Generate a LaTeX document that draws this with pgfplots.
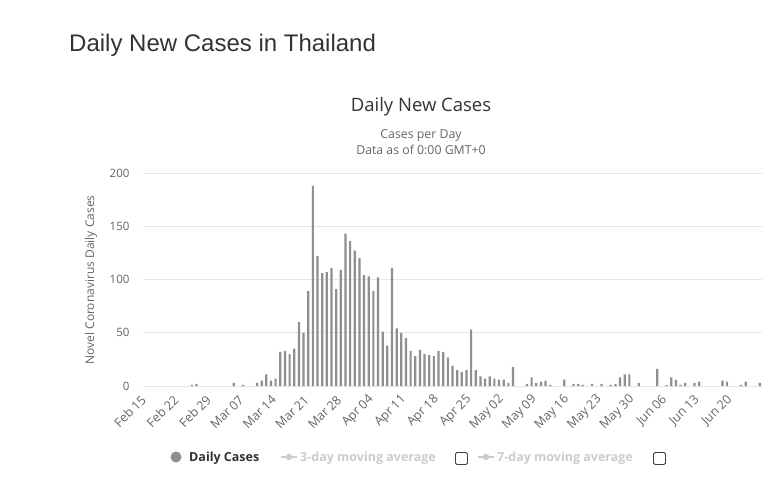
\documentclass[border=0pt]{standalone}
\usepackage{pgfplots}
\pgfplotsset{compat=1.18}
\usepackage{fontspec}
\setmainfont{Open Sans}
\newfontfamily\titlefont{Liberation Sans}
\definecolor{barc}{HTML}{8F8F8F}
\definecolor{gridc}{HTML}{E6E6E6}
\definecolor{txtdark}{HTML}{333333}
\definecolor{txtgray}{HTML}{666666}
\definecolor{txtlight}{HTML}{CCCCCC}
\begin{document}
\begin{tikzpicture}[x=1pt,y=1pt]
\path[use as bounding box, fill=white] (0,0) rectangle (783,483);
% page title
\node[anchor=base west, inner sep=0, text=txtdark, font=\titlefont\fontsize{24}{28}\selectfont] at (69,431) {Daily New Cases in Thailand};
% chart title and subtitle
\node[anchor=base, inner sep=0, text=txtdark, font=\fontsize{18.5}{21}\selectfont] at (421,372) {Daily New Cases};
\node[anchor=base, inner sep=0, text=txtgray, font=\fontsize{12.3}{14}\selectfont] at (421,345) {Cases per Day};
\node[anchor=base, inner sep=0, text=txtgray, font=\fontsize{12.3}{14}\selectfont] at (421,329) {Data as of 0:00 GMT+0};
% y axis title
\node[rotate=90, anchor=center, inner sep=0, text=txtgray, font=\fontsize{12}{14}\selectfont] at (91,203) {Novel Coronavirus Daily Cases};
\begin{axis}[
  at={(143pt,97pt)}, anchor=south west,
  scale only axis, width=619pt, height=213pt,
  xmin=-0.5, xmax=132.5, ymin=0, ymax=200,
  axis line style={draw=none},
  ymajorgrids, major grid style={draw=gridc, line width=0.8pt},
  major tick length=0pt,
  ytick={0,50,100,150,200},
  xtick={0,7,14,21,28,35,42,49,56,63,70,77,84,91,98,105,112,119,126},
  xticklabels={Feb 15,Feb 22,Feb 29,Mar 07,Mar 14,Mar 21,Mar 28,Apr 04,Apr 11,Apr 18,Apr 25,May 02,May 09,May 16,May 23,May 30,Jun 06,Jun 13,Jun 20},
  /pgf/number format/assume math mode=true,
  yticklabel style={text=txtgray, font=\fontsize{11.5}{13}\selectfont, xshift=-10pt},
  xticklabel style={text=txtgray, font=\fontsize{12.5}{14}\selectfont, rotate=45, anchor=east, xshift=1pt},
  xticklabel shift=10pt,
  ybar, bar width=2.2pt,
  clip=false,
]
\addplot[fill=barc, draw=none] coordinates {
(10,1) (11,2) (19,3) (21,1) (24,3) (25,5) (26,11) (27,5) (28,7)
(29,32) (30,33) (31,30) (32,35) (33,60) (34,50) (35,89) (36,188)
(37,122) (38,106) (39,107) (40,111) (41,91) (42,109) (43,143) (44,136)
(45,127) (46,120) (47,104) (48,103) (49,89) (50,102) (51,51) (52,38)
(53,111) (54,54) (55,50) (56,45) (57,33) (58,28) (59,34) (60,30)
(61,29) (62,28) (63,33) (64,32) (65,27) (66,19) (67,15) (68,13)
(69,15) (70,53) (71,15) (72,9) (73,7) (74,9) (75,7) (76,6) (77,6)
(78,3) (79,18) (82,2) (83,8) (84,3) (85,4) (86,5) (87,1) (90,6)
(92,2) (93,2) (94,1) (96,2) (98,2) (100,1) (101,2) (102,8) (103,11)
(104,11) (106,3) (110,16) (112,1) (113,8) (114,6) (115,1) (116,3)
(118,3) (119,4) (124,5) (125,4) (128,1) (129,4) (132,3)
};
\end{axis}
% legend
\fill[barc] (176,26) circle (5.5);
\node[anchor=base west, inner sep=0, text=txtdark, font=\bfseries\fontsize{12.5}{14}\selectfont] at (189,22) {Daily Cases};
\draw[txtlight, line width=1.8pt] (281,26) -- (297,26);
\fill[txtlight] (289,26) circle (3.2);
\node[anchor=base west, inner sep=0, text=txtlight, font=\bfseries\fontsize{12.5}{14}\selectfont] at (300,22) {3-day moving average};
\draw[black!75, line width=0.8pt, rounded corners=1.5pt] (455.5,18.5) rectangle (467.5,30.5);
\draw[txtlight, line width=1.8pt] (478,26) -- (494,26);
\fill[txtlight] (486,26) circle (3.2);
\node[anchor=base west, inner sep=0, text=txtlight, font=\bfseries\fontsize{12.5}{14}\selectfont] at (497,22) {7-day moving average};
\draw[black!75, line width=0.8pt, rounded corners=1.5pt] (653.5,18.5) rectangle (665.5,30.5);
\end{tikzpicture}
\end{document}
